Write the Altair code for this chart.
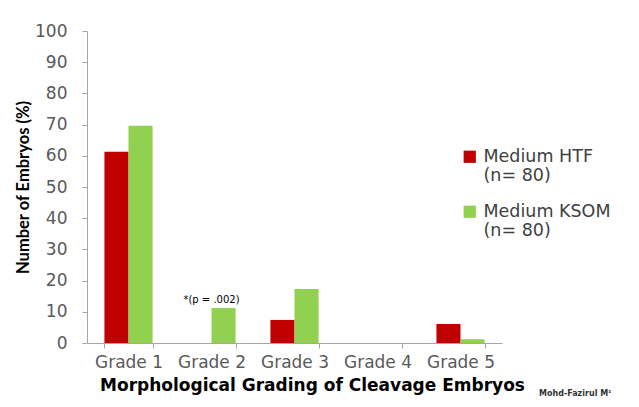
import altair as alt
import pandas as pd

grades = ["Grade 1", "Grade 2", "Grade 3", "Grade 4", "Grade 5"]
htf = [61.3, 0, 7.4, 0, 6.1]
ksom = [69.6, 11.2, 17.3, 0, 1.2]
series = ["Medium HTF|(n= 80)", "Medium KSOM|(n= 80)"]
colors = ["#C00000", "#92D050"]
y_ticks = [0, 10, 20, 30, 40, 50, 60, 70, 80, 90, 100]

rows = []
for g, a, b in zip(grades, htf, ksom):
    rows.append({"grade": g, "series": series[0], "value": a})
    rows.append({"grade": g, "series": series[1], "value": b})
df = pd.DataFrame(rows)

ann = pd.DataFrame({"grade": ["Grade 2"], "value": [11.2], "text": ["*(p = .002)"]})
credit = pd.DataFrame({"text": ["Mohd-Fazirul M\u00b9"]})

FONT = "DejaVu Sans"

x_enc = alt.X("grade:N", sort=grades,
              scale=alt.Scale(paddingInner=0.42, paddingOuter=0.21),
              axis=alt.Axis(title="Morphological Grading of Cleavage Embryos",
                            labelAngle=0, labelFontSize=17, labelColor="#595959",
                            labelFont=FONT, labelPadding=6,
                            titleFont=FONT, titleFontSize=17, titleFontWeight="bold",
                            titleColor="#000000", titlePadding=7, titleX=225,
                            tickBand="extent", tickColor="#A6A6A6",
                            domainColor="#A6A6A6", tickSize=5))

y_enc = alt.Y("value:Q", scale=alt.Scale(domain=[0, 100]),
              axis=alt.Axis(title="Number of Embryos (%)", values=y_ticks,
                            grid=False, labelFontSize=17, labelColor="#595959",
                            labelFont=FONT, labelPadding=15, labelOverlap=False,
                            titleFont="Lato", titleFontSize=16.5,
                            titleFontWeight="bold", titleColor="#000000", titlePadding=3,
                            tickColor="#A6A6A6", domainColor="#A6A6A6", tickSize=5))

bars = alt.Chart(df).mark_bar().encode(
    x=x_enc,
    xOffset=alt.XOffset("series:N", sort=series),
    y=y_enc,
    color=alt.Color("series:N", sort=series,
                    scale=alt.Scale(domain=series, range=colors),
                    legend=alt.Legend(title=None, orient="none", legendX=374, legendY=117,
                                      labelExpr="split(datum.label, '|')",
                                      labelFont=FONT, labelFontSize=17.5,
                                      labelColor="#404040", symbolType="square",
                                      symbolSize=150, symbolStrokeWidth=0,
                                      rowPadding=17, labelOffset=5,
                                      labelLimit=300)),
)

text = alt.Chart(ann).mark_text(fontSize=10, font=FONT, color="#000000", dy=-8).encode(
    x=alt.X("grade:N", sort=grades),
    y=y_enc,
    text="text:N",
)

credit_text = alt.Chart(credit).mark_text(fontSize=8, font=FONT, color="#333333",
                                          fontWeight="bold", align="left").encode(
    x=alt.value(452), y=alt.value(363), text="text:N")

chart = alt.layer(bars, text, credit_text).properties(
    width=415, height=312,
    autosize=alt.AutoSizeParams(type="none"),
    padding={"left": 79, "top": 23, "right": 129, "bottom": 56},
).configure_view(stroke=None)

chart.save("out.html", embed_options={"renderer": "svg", "actions": False})
